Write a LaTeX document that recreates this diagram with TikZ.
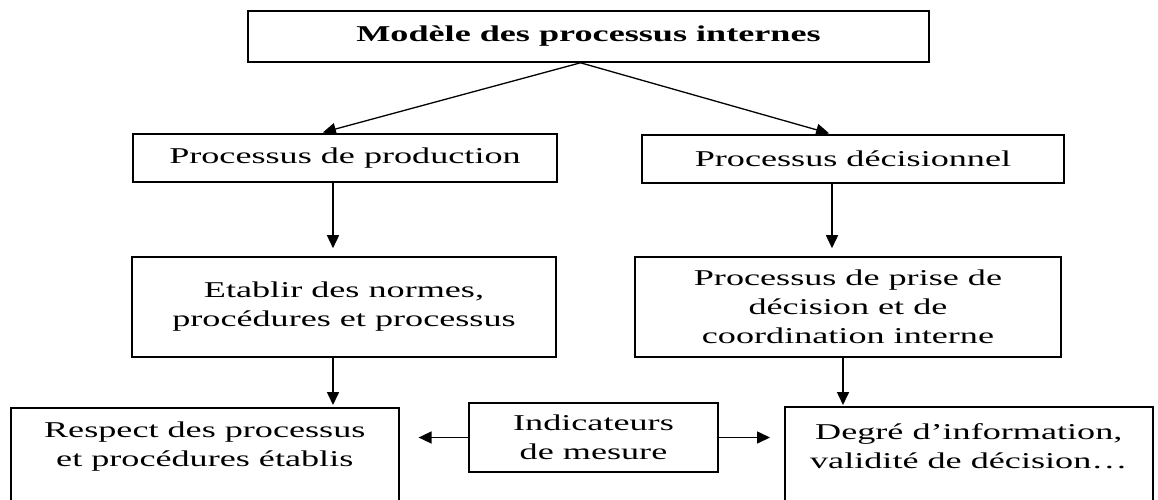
\documentclass[tikz,border=0pt]{standalone}
\usepackage{fontspec}
\setmainfont{Liberation Serif}[FakeStretch=1.6]
\usetikzlibrary{arrows.meta,calc,positioning}

\begin{document}
\begin{tikzpicture}[x=1pt,y=-1pt,
  box/.style={draw,line width=1.6pt,inner sep=0pt,align=center,font=\fontsize{22.6}{29}\selectfont},
  txt/.style={inner sep=0pt,align=center,font=\fontsize{22.6}{29}\selectfont},
  arr/.style={-{Triangle[length=13pt,width=12pt]},line width=1.6pt}]
\useasboundingbox (0,0) rectangle (1158,500);
\clip (0,0) rectangle (1158,500);
% root
\node[box,minimum width=681pt,minimum height=51pt,font=\bfseries\fontsize{22.6}{29}\selectfont] (model) at (588.5,36.5) {Modèle des processus internes};
% the two processes
\node[box,minimum width=424pt,minimum height=48pt] (prod) at (345,158) {Processus de production};
\node[box,minimum width=422pt,minimum height=48pt] (dec) at (853,159) {Processus décisionnel};
\node[box,minimum width=424pt,minimum height=100pt] (norm) at (344,307) {Etablir des normes,\\procédures et processus};
\node[box,minimum width=426pt,minimum height=100pt] (prise) at (848,307) {Processus de prise de\\décision et de\\coordination interne};
% bottom row, outer boxes run off the page
\node[box,minimum width=388pt,minimum height=120pt,anchor=north west] (resp) at (10,407) {};
\node[txt] (respTxt) at ($(resp.north)+(0,40)$) {Respect des processus\\et procédures établis};
\node[box,minimum width=368pt,minimum height=120pt,anchor=north west] (degre) at (784,406) {};
\node[txt] (degreTxt) at ($(degre.north)+(0,40)$) {Degré d’information,\\validité de décision…};
\node[box,minimum width=249pt,minimum height=69pt] (ind) at (593.5,437.5) {Indicateurs\\de mesure};
% arrows
\draw[arr,line width=1.3pt,shorten >=3pt] ($(model.south)+(-8,0)$) -- ($(prod.north)+(-25,0)$);
\draw[arr,line width=1.3pt,shorten >=3pt] ($(model.south)+(-8,0)$) -- ($(dec.north)+(-21,0)$);
\draw[arr,shorten >=8pt] ([xshift=-12pt]prod.south) -- ([xshift=-12pt]prod.south |- norm.north);
\draw[arr,shorten >=8pt] ([xshift=-21pt]dec.south) -- ([xshift=-21pt]dec.south |- prise.north);
\draw[arr,shorten >=2pt] ([xshift=-11pt]norm.south) -- ([xshift=-11pt]norm.south |- resp.north);
\draw[arr,shorten >=1pt] ([xshift=-5pt]prise.south) -- ([xshift=-5pt]prise.south |- degre.north);
\draw[arr] (ind.west) -- ([xshift=19pt]resp.east |- ind.west);
\draw[arr] (ind.east) -- ([xshift=-14pt]degre.west |- ind.east);
\end{tikzpicture}
\end{document}
